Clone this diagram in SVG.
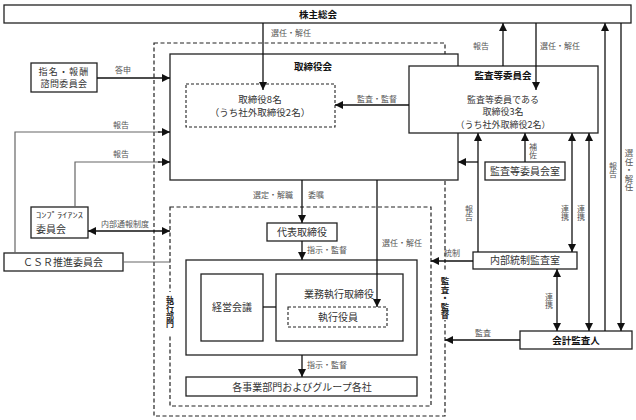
<svg xmlns="http://www.w3.org/2000/svg" width="636" height="420" viewBox="0 0 636 420">
<defs>
<marker id="ah" viewBox="0 0 10 10" refX="10" refY="5" markerWidth="8" markerHeight="8" orient="auto-start-reverse" markerUnits="userSpaceOnUse"><path d="M0,0 L10,5 L0,10 z" fill="#111"/></marker>
<style>
text{font-family:"Noto Sans CJK JP","Noto Sans CJK SC",sans-serif;fill:#333;}
.t{font-size:10px;text-anchor:middle;}
.t9{font-size:9.5px;text-anchor:middle;}
.t8{font-size:9px;text-anchor:middle;}
.b{font-size:9.5px;font-weight:bold;text-anchor:middle;fill:#111;}
.l{font-size:8px;text-anchor:middle;fill:#555;}
.v{font-size:8px;fill:#555;text-anchor:middle;writing-mode:vertical-rl;}
.vb{font-size:8px;font-weight:bold;fill:#222;text-anchor:middle;writing-mode:vertical-rl;}
.box{fill:#fff;stroke:#222;stroke-width:1.3;}
.dash{fill:none;stroke:#222;stroke-width:1.2;stroke-dasharray:4 2.5;}
.dbox{fill:#fff;stroke:#222;stroke-width:1.1;stroke-dasharray:3 2;}
.c{fill:none;stroke:#111;stroke-width:1.3;}
.g{fill:none;stroke:#666;stroke-width:1.2;}
.a{marker-end:url(#ah);}
.aa{marker-start:url(#ah);marker-end:url(#ah);}
</style>
</defs>
<g id="shareholders"><rect class="box" x="4" y="5" width="627" height="18"/><text class="b" x="318" y="17.5">株主総会</text></g>
<g id="outer-dashed"><rect class="dash" x="154" y="43" width="291" height="373"/></g>
<g id="board"><rect class="box" x="170" y="54" width="288" height="126"/><text class="b" x="313" y="69.5">取締役会</text></g>
<g id="directors"><rect class="dbox" x="186" y="84" width="149" height="43"/><text class="t9"><tspan x="260" y="102.5">取締役8名</tspan><tspan x="260" y="115.5">（うち社外取締役2名）</tspan></text></g>
<g id="audit-committee"><rect class="box" x="409" y="66" width="189" height="67"/><text class="b" x="503" y="78.5">監査等委員会</text><text class="t8"><tspan x="503" y="102.5">監査等委員である</tspan><tspan x="503" y="115">取締役3名</tspan><tspan x="503" y="127.5">（うち社外取締役2名）</tspan></text></g>
<g id="nomination"><rect class="box" x="31" y="63" width="66" height="29"/><text class="t8"><tspan x="64" y="74.5" letter-spacing="1.2">指名・報酬</tspan><tspan x="64" y="87" letter-spacing="0.4">諮問委員会</tspan></text></g>
<g id="compliance"><rect class="box" x="31" y="207" width="57" height="31"/><text x="36" y="218" style="font-size:7.5px" textLength="47" lengthAdjust="spacingAndGlyphs">ｺﾝﾌﾟﾗｲｱﾝｽ</text><text x="36" y="233" style="font-size:10px">委員会</text></g>
<g id="csr"><rect class="box" x="4" y="253" width="119" height="18"/><text class="t" x="63" y="265.5">ＣＳＲ推進委員会</text></g>
<g id="exec-dashed"><rect class="dash" x="170" y="207" width="261" height="199"/><rect x="163" y="292" width="14" height="42" fill="#fff"/><text class="vb" x="170" y="312">執行部門</text></g>
<g id="audit-label"><rect x="438" y="272" width="14" height="48" fill="#fff"/><text class="vb" x="445" y="298" style="font-size:8.5px">監査・監督</text></g>
<g id="president"><rect class="box" x="267" y="223" width="70" height="18"/><text class="t" x="302" y="235.5">代表取締役</text></g>
<g id="exec-block"><rect class="box" x="186" y="260" width="231" height="95"/></g>
<g id="management-meeting"><rect class="box" x="201" y="274" width="62" height="67"/><text class="t" x="232" y="310.5">経営会議</text></g>
<g id="exec-directors"><rect class="box" x="276" y="274" width="127" height="67"/><text class="t" x="339" y="297.5">業務執行取締役</text></g>
<g id="officers"><rect class="dbox" x="288" y="307" width="99" height="20"/><text class="t" x="338" y="320.5">執行役員</text></g>
<g id="divisions"><rect class="box" x="186" y="377" width="231" height="19"/><text class="t" x="302" y="390.5">各事業部門およびグループ各社</text></g>
<g id="audit-office"><rect class="box" x="485" y="162" width="80" height="18"/><text class="t" x="525" y="174.5">監査等委員会室</text></g>
<g id="internal-audit"><rect class="box" x="473" y="252" width="104" height="17"/><text class="t" x="525" y="264">内部統制監査室</text></g>
<g id="accounting-auditor"><rect class="box" x="520" y="331" width="112" height="18"/><text class="b" x="576" y="343.5">会計監査人</text></g>
<g id="connectors">
<path class="c a" d="M263,23 V90"/>
<path class="c a" d="M536,23 V90"/>
<path class="c a" d="M503,66 V23"/>
<path class="c a" d="M605,331 V23"/>
<path class="c a" d="M621,23 V331"/>
<path class="c a" d="M409,105 H335"/>
<path class="c a" d="M97,78 H170"/>
<path class="g" d="M15,253 V132 H160"/><path class="c a" d="M158,132 H170"/>
<path class="g" d="M75,207 V162 H160"/><path class="c a" d="M158,162 H170"/>
<path class="c aa" d="M88,231 H170"/>
<path class="g" d="M123,262 H170"/>
<path class="c a" d="M302,180 V223"/>
<path class="c a" d="M302,241 V260"/>
<path class="c a" d="M377,180 V307"/>
<path class="c" d="M263,307 H276"/>
<path class="c a" d="M302,355 V377"/>
<path class="c a" d="M478,252 V133"/>
<path class="c a" d="M478,162 H458"/>
<path class="c a" d="M525,162 V133"/>
<path class="c aa" d="M572,133 V252"/>
<path class="c aa" d="M589,133 V331"/>
<path class="c aa" d="M557,269 V331"/>
<path class="c a" d="M473,261 H431"/>
<path class="c a" d="M520,340 H445"/>
</g>
<g id="labels">
<text class="l" x="291" y="36">選任・解任</text>
<text class="l" x="123" y="73">答申</text>
<text class="l" x="121" y="128">報告</text>
<text class="l" x="121" y="157">報告</text>
<text class="l" x="125" y="227">内部通報制度</text>
<text class="l" x="273" y="198">選定・解職</text>
<text class="l" x="316" y="198">委嘱</text>
<text class="l" x="327" y="253">指示・監督</text>
<text class="l" x="402" y="246">選任・解任</text>
<text class="l" x="327" y="368">指示・監督</text>
<text class="l" x="377" y="102">監査・監督</text>
<text class="l" x="481" y="49">報告</text>
<text class="l" x="560" y="49">選任・解任</text>
<text class="l" x="452" y="256">統制</text>
<text class="l" x="483" y="336">監査</text>
<text class="v" x="533" y="151">補佐</text>
<text class="v" x="469" y="213">報告</text>
<text class="v" x="565" y="213">連携</text>
<text class="v" x="581" y="213">連携</text>
<text class="v" x="549" y="301">連携</text>
<text class="v" x="613" y="170">報告</text>
<text class="v" x="629" y="170" style="font-size:8.5px">選任・解任</text>
</g>
</svg>
